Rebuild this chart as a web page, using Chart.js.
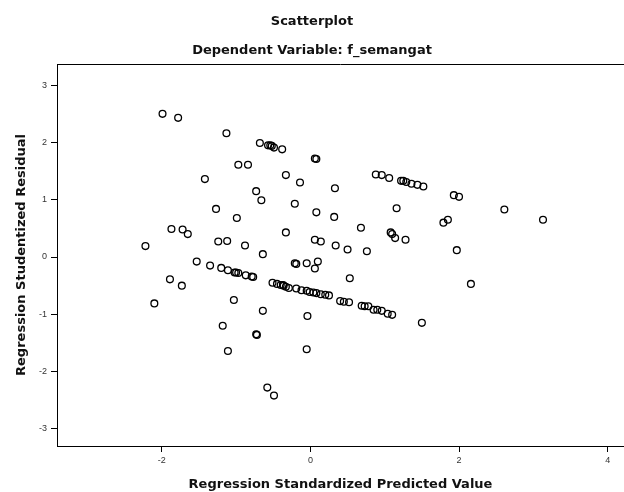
<!DOCTYPE html>
<html>
<head>
<meta charset="utf-8">
<title>Scatterplot</title>
<script src="https://cdn.jsdelivr.net/npm/chart.js@4/dist/chart.umd.min.js"></script>
<style>
  html, body { margin: 0; padding: 0; background: #fff; }
  #chart { display: block; }
</style>
</head>
<body>
<canvas id="chart" width="624" height="492"></canvas>
<script>
// Regression Standardized Predicted Value (x) / Studentized Residual (y)
const predicted = [
  -2.22, -2.10, -1.99, -1.89, -1.87, -1.78, -1.73, -1.72, -1.65, -1.53,
  -1.42, -1.35, -1.27, -1.24, -1.20, -1.18, -1.13, -1.12, -1.11, -1.11,
  -1.03, -1.02, -1.00, -0.99, -0.97, -0.97, -0.88, -0.87, -0.84, -0.79,
  -0.77, -0.73, -0.73, -0.72, -0.68, -0.66, -0.64, -0.64, -0.58, -0.57,
  -0.54, -0.52, -0.51, -0.49, -0.49, -0.45, -0.40, -0.38, -0.37, -0.36,
  -0.33, -0.33, -0.33, -0.29, -0.21, -0.21, -0.19, -0.19, -0.14, -0.12,
  -0.05, -0.05, -0.05, -0.04, -0.01, 0.04, 0.06, 0.08, 0.06, 0.06,
  0.08, 0.08, 0.10, 0.14, 0.14, 0.20, 0.25, 0.32, 0.33, 0.34,
  0.40, 0.45, 0.50, 0.52, 0.53, 0.68, 0.69, 0.73, 0.76, 0.78,
  0.85, 0.88, 0.90, 0.96, 0.96, 1.04, 1.06, 1.08, 1.10, 1.10,
  1.14, 1.16, 1.22, 1.25, 1.28, 1.29, 1.36, 1.44, 1.50, 1.52,
  1.79, 1.85, 1.93, 1.97, 2.00, 2.16, 2.61, 3.13
];
const residual = [
  0.19, -0.81, 2.50, -0.39, 0.49, 2.43, -0.50, 0.48, 0.40, -0.08,
  1.36, -0.15, 0.84, 0.27, -0.19, -1.20, 2.16, 0.28, -0.23, -1.64,
  -0.75, -0.27, -0.27, 0.68, 1.61, -0.28, 0.20, -0.32, 1.61, -0.34,
  -0.35, 1.15, -1.35, -1.36, 1.99, 0.99, 0.05, -0.94, -2.28, 1.95,
  1.95, 1.94, -0.45, 1.91, -2.42, -0.47, -0.49, 1.88, -0.49, -0.50,
  1.43, 0.43, -0.52, -0.54, 0.93, -0.11, -0.12, -0.55, 1.30, -0.58,
  -0.11, -0.59, -1.61, -1.03, -0.61, -0.62, 1.72, 1.71, 0.30, -0.20,
  0.78, -0.63, -0.08, 0.27, -0.65, -0.66, -0.67, 0.70, 1.20, 0.20,
  -0.77, -0.78, 0.13, -0.79, -0.37, 0.51, -0.85, -0.86, 0.10, -0.86,
  -0.92, 1.44, -0.92, 1.43, -0.94, -0.99, 1.38, 0.43, 0.40, -1.01,
  0.33, 0.85, 1.33, 1.33, 0.30, 1.31, 1.28, 1.26, -1.15, 1.23,
  0.60, 0.65, 1.08, 0.12, 1.05, -0.47, 0.83, 0.65
];
const xTicks = [-2, 0, 2, 4];
const yTicks = [-3, -2, -1, 0, 1, 2, 3];

const points = predicted.map((x, i) => ({ x: x, y: residual[i] }));

// top edge of the plot frame (left and bottom come from the axes)
const frameTop = {
  id: 'frameTop',
  afterDraw(chart) {
    const { ctx, chartArea } = chart;
    ctx.save();
    ctx.strokeStyle = '#000';
    ctx.lineWidth = 1;
    ctx.beginPath();
    ctx.moveTo(chartArea.left, chartArea.top + 0.5);
    ctx.lineTo(chartArea.right, chartArea.top + 0.5);
    ctx.stroke();
    ctx.restore();
  }
};

const titleFont = { family: 'DejaVu Sans', size: 13, weight: 'bold' };
const tickFont = { family: 'Liberation Sans', size: 9 };

new Chart(document.getElementById('chart'), {
  type: 'scatter',
  data: {
    datasets: [{
      data: points,
      pointStyle: 'circle',
      pointRadius: 3.4,
      pointBorderWidth: 1.3,
      borderColor: '#000',
      backgroundColor: 'rgba(0,0,0,0)'
    }]
  },
  options: {
    responsive: false,
    animation: false,
    events: [],
    layout: { autoPadding: false, padding: 0 },
    plugins: {
      legend: { display: false },
      tooltip: { enabled: false },
      title: {
        display: true,
        text: 'Scatterplot',
        color: '#111',
        font: titleFont,
        padding: { top: 14, bottom: 6 }
      },
      subtitle: {
        display: true,
        text: 'Dependent Variable: f_semangat',
        color: '#111',
        font: titleFont,
        padding: { top: 7.6, bottom: 5.2 }
      }
    },
    scales: {
      x: {
        type: 'linear',
        min: -3.41,
        max: 4.22,
        afterBuildTicks: axis => { axis.ticks = xTicks.map(v => ({ value: v })); },
        afterFit: axis => { axis.height = 46; },
        ticks: { font: tickFont, color: '#333', padding: 3 },
        grid: { display: true, drawOnChartArea: false, tickLength: 6, tickColor: '#000' },
        border: { display: true, color: '#000', width: 1 },
        title: {
          display: true,
          text: 'Regression Standardized Predicted Value',
          color: '#111',
          font: titleFont,
          padding: { top: 0, bottom: 0 }
        }
      },
      y: {
        type: 'linear',
        min: -3.30,
        max: 3.37,
        afterBuildTicks: axis => { axis.ticks = yTicks.map(v => ({ value: v })); },
        afterFit: axis => { axis.width = 57; },
        ticks: { font: tickFont, color: '#333', padding: 4 },
        grid: { display: true, drawOnChartArea: false, tickLength: 6, tickColor: '#000' },
        border: { display: true, color: '#000', width: 1 },
        title: {
          display: true,
          text: 'Regression Studentized Residual',
          color: '#111',
          font: titleFont,
          padding: { top: 14, bottom: 0 }
        }
      }
    }
  },
  plugins: [frameTop]
});
</script>
</body>
</html>
